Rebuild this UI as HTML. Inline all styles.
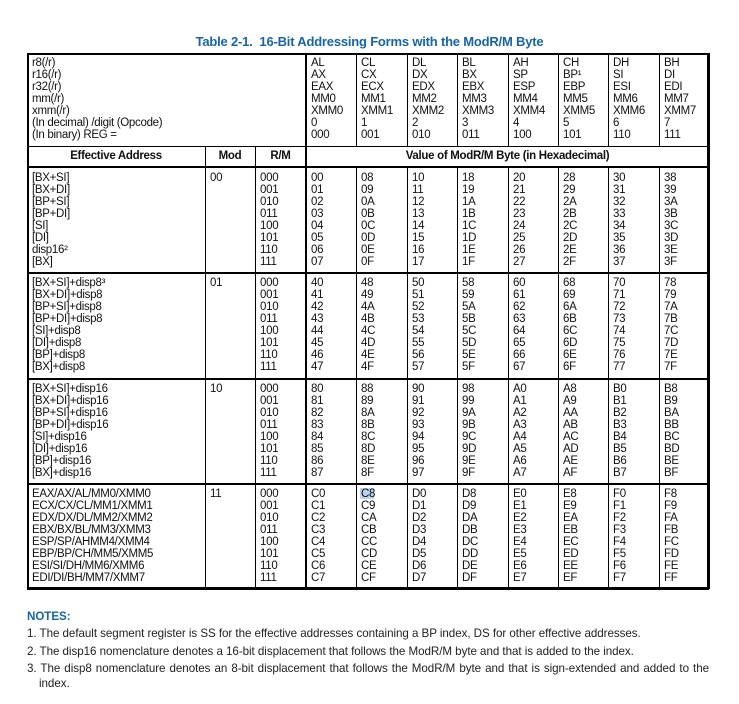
<!DOCTYPE html>
<html><head><meta charset="utf-8"><style>
body{margin:0;width:739px;height:704px;background:#fff;position:relative;overflow:hidden;font-family:"Liberation Sans",sans-serif;color:#111}
.a{position:absolute;white-space:pre;font-size:11.5px;line-height:12px;letter-spacing:-0.3px}
.l{position:absolute;background:#000}
.n{position:absolute;left:27px;font-size:11.6px;letter-spacing:-0.05px;color:#222;white-space:nowrap}
</style></head><body>
<div style="position:absolute;left:0;width:739px;top:34px;text-align:center;font-weight:bold;font-size:13px;color:#1565a8;letter-spacing:-0.2px">Table 2-1.&nbsp; 16-Bit Addressing Forms with the ModR/M Byte</div>
<div id="t"></div>
<div class="n" style="top:610px;font-weight:bold;color:#1565a8">NOTES:</div>
<div class="n" style="top:627px">1. The default segment register is SS for the effective addresses containing a BP index, DS for other effective addresses.</div>
<div class="n" style="top:645px">2. The disp16 nomenclature denotes a 16-bit displacement that follows the ModR/M byte and that is added to the index.</div>
<div class="n" style="top:662px;width:682px;text-align:justify;text-align-last:justify">3. The disp8 nomenclature denotes an 8-bit displacement that follows the ModR/M byte and that is sign-extended and added to the</div>
<div class="n" style="top:677px;left:39px">index.</div>
<script>
const regs=[["AL","AX","EAX","MM0","XMM0","0","000"],["CL","CX","ECX","MM1","XMM1","1","001"],["DL","DX","EDX","MM2","XMM2","2","010"],["BL","BX","EBX","MM3","XMM3","3","011"],["AH","SP","ESP","MM4","XMM4","4","100"],["CH","BP¹","EBP","MM5","XMM5","5","101"],["DH","SI","ESI","MM6","XMM6","6","110"],["BH","DI","EDI","MM7","XMM7","7","111"]];
const headLabels=["r8(/r)","r16(/r)","r32(/r)","mm(/r)","xmm(/r)","(In decimal) /digit (Opcode)","(In binary) REG ="];
const mods=["00","01","10","11"];
const rms=["000","001","010","011","100","101","110","111"];
const eas=[["[BX+SI]","[BX+DI]","[BP+SI]","[BP+DI]","[SI]","[DI]","disp16²","[BX]"],
["[BX+SI]+disp8³","[BX+DI]+disp8","[BP+SI]+disp8","[BP+DI]+disp8","[SI]+disp8","[DI]+disp8","[BP]+disp8","[BX]+disp8"],
["[BX+SI]+disp16","[BX+DI]+disp16","[BP+SI]+disp16","[BP+DI]+disp16","[SI]+disp16","[DI]+disp16","[BP]+disp16","[BX]+disp16"],
["EAX/AX/AL/MM0/XMM0","ECX/CX/CL/MM1/XMM1","EDX/DX/DL/MM2/XMM2","EBX/BX/BL/MM3/XMM3","ESP/SP/AHMM4/XMM4","EBP/BP/CH/MM5/XMM5","ESI/SI/DH/MM6/XMM6","EDI/DI/BH/MM7/XMM7"]];
const T=document.getElementById('t');
const L=27,R=709,TOP=53,H1=146,H2=167,G=[167,272,378,483,588];
const cx=[L,205,255,306];for(let i=1;i<=8;i++)cx.push(Math.round(306+i*50.375));
function line(x,y,w,h,n){const d=document.createElement('div');d.className='l';


d.style.cssText=`left:${x}px;top:${y}px;width:${w}px;height:${h}px`;T.appendChild(d);}
function txt(x,y,s,n,extra){const d=document.createElement('div');d.className='a';


d.style.cssText=`left:${x}px;top:${y}px;`+(extra||'');d.textContent=s;T.appendChild(d);return d;}
const hl=document.createElement('div');


hl.style.cssText=`position:absolute;left:${cx[4]+4}px;top:${G[3]+5}px;width:14px;height:11px;background:#b9d4ec`;T.appendChild(hl);
txt(32,57,headLabels.join("\n"),'row-labels-header');
regs.forEach((r,i)=>txt(cx[3+i]+5,57,r.join("\n"),'reg-column-'+i));
txt(L,150,"Effective Address",'ea-header','width:178px;text-align:center;font-weight:bold');
txt(205,150,"Mod",'mod-header','width:50px;text-align:center;font-weight:bold');
txt(255,150,"R/M",'rm-header','width:51px;text-align:center;font-weight:bold');
txt(306,150,"Value of ModR/M Byte (in Hexadecimal)",'value-header','width:403px;text-align:center;font-weight:bold');
mods.forEach((m,g)=>{const y=G[g]+5;
 txt(32,y,eas[g].join("\n"),'ea-group-'+m);
 txt(210,y,m,'mod-'+m);
 txt(260,y,rms.join("\n"),'rm-group-'+m);
 for(let c=0;c<8;c++){const vals=rms.map((_,r)=>(g*64+c*8+r).toString(16).toUpperCase().padStart(2,'0'));
  txt(cx[3+c]+5,y,vals.join("\n"),'hex-col-'+m+'-'+c);}
});
line(L,TOP,R-L,2,'border-top');line(L,G[4]-1,R-L,3,'border-bottom');
line(L,TOP,2,G[4]-TOP+1,'border-left');line(R-2,TOP,3,G[4]-TOP+1,'border-right');
line(L,H1,R-L,1,'header-sep');line(L,H2-1,R-L,2,'eahdr-sep');
for(let g=1;g<4;g++)line(L,G[g],R-L,2,'group-sep-'+g);
line(205,H1,1,G[4]-H1,'mod-line');line(255,H1,1,G[4]-H1,'rm-line');
line(305,TOP,2,G[4]-TOP,'data-thick-line');
for(let i=4;i<11;i++){line(cx[i],TOP,1,H1-TOP,'col-line-top-'+i);line(cx[i],H2,1,G[4]-H2,'col-line-'+i);}
</script>
</body></html>
